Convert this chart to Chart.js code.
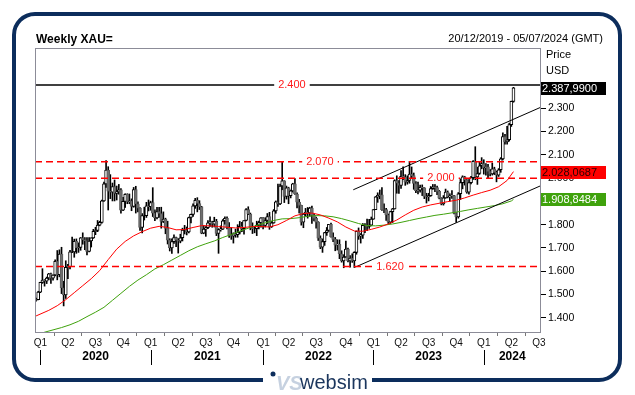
<!DOCTYPE html>
<html>
<head>
<meta charset="utf-8">
<script src="https://cdn.jsdelivr.net/npm/chart.js@4.4.1/dist/chart.umd.min.js"></script>
<style>
  html, body { margin: 0; padding: 0; background: #fff; }
  canvas { display: block; }
</style>
</head>
<body>
<canvas id="c" width="635" height="395"></canvas>
<script>
// week 0 = Friday 20/12/2019, one bar per week
const START = Date.UTC(2019, 11, 20);
const WEEK = 7 * 86400000;
const quarterStarts = ['2020-01-01','2020-04-01','2020-07-01','2020-10-01','2021-01-01','2021-04-01','2021-07-01','2021-10-01',
  '2022-01-01','2022-04-01','2022-07-01','2022-10-01','2023-01-01','2023-04-01','2023-07-01','2023-10-01',
  '2024-01-01','2024-04-01','2024-07-01'];
const yTicks = [1400,1500,1600,1700,1800,1900,2000,2100,2200,2300];

const firstOpen = 1476;
const closes = [1478,1510,1552,1562,1557,1571,1589,1570,1584,1643,
  1585,1674,1529,1498,1617,1620,1683,1683,1729,1700,
  1702,1743,1735,1730,1685,1730,1743,1771,1775,1798,
  1810,1902,1975,2035,1944,1940,1964,1934,1941,1950,
  1862,1900,1930,1899,1902,1879,1951,1889,1871,1788,
  1839,1839,1881,1877,1895,1850,1829,1856,1848,1814,
  1824,1784,1734,1700,1727,1745,1733,1729,1744,1777,
  1777,1769,1831,1844,1881,1905,1891,1877,1764,1781,
  1787,1808,1812,1802,1814,1763,1779,1781,1817,1827,
  1788,1754,1751,1761,1757,1768,1793,1783,1818,1865,
  1846,1788,1783,1783,1798,1809,1829,1797,1818,1835,
  1791,1808,1859,1898,1889,1966,1988,1921,1958,1925,
  1945,1975,1932,1897,1883,1811,1846,1853,1851,1871,
  1840,1827,1811,1742,1703,1727,1766,1775,1802,1747,
  1737,1712,1716,1675,1644,1661,1695,1644,1657,1644,
  1681,1771,1751,1755,1797,1797,1793,1798,1824,1865,
  1920,1926,1928,1865,1865,1842,1811,1856,1868,1989,
  1978,1969,2008,2004,1983,1990,2017,2011,1977,1946,
  1948,1961,1958,1921,1919,1925,1955,1962,1959,1943,
  1914,1889,1915,1940,1919,1924,1925,1849,1833,1933,
  1981,2006,1992,1940,1981,2002,2072,2005,2020,2053,
  2063,2045,2049,2029,2018,2040,2025,2013,2036,2083,
  2179,2156,2165,2230,2330,2387.99];
const highs = [1485,1514,1553,1611,1564,1575,1591,1592,1585,1649,
  1689,1692,1703,1557,1645,1630,1690,1747,1738,1739,
  1722,1745,1765,1745,1745,1745,1744,1780,1789,1818,
  1815,1906,1983,2075,2049,2015,1979,1992,1966,1973,
  1955,1917,1933,1933,1932,1911,1960,1965,1898,1874,
  1848,1875,1896,1906,1901,1959,1864,1875,1875,1875,
  1855,1828,1815,1740,1739,1756,1747,1740,1759,1785,
  1797,1790,1833,1846,1890,1913,1916,1903,1879,1796,
  1792,1818,1834,1815,1832,1823,1783,1795,1822,1834,
  1834,1809,1787,1765,1781,1800,1814,1810,1818,1869,
  1877,1850,1808,1793,1815,1815,1831,1831,1830,1848,
  1853,1815,1865,1902,1974,1974,2070,1989,1966,1961,
  1949,1978,1998,1937,1909,1884,1849,1870,1874,1875,
  1880,1847,1833,1813,1752,1739,1767,1788,1802,1807,
  1765,1745,1735,1735,1688,1671,1730,1700,1667,1675,
  1684,1773,1786,1762,1805,1805,1824,1823,1833,1865,
  1921,1937,1949,1959,1890,1870,1846,1858,1870,1993,
  2010,1989,2032,2048,2015,2010,2072,2048,2022,1985,
  1983,1970,1971,1959,1935,1935,1964,1987,1982,1966,
  1947,1916,1925,1953,1945,1933,1947,1926,1851,1938,
  1997,2010,2008,1994,1994,2008,2075,2135,2047,2071,
  2088,2079,2062,2059,2037,2065,2047,2031,2041,2088,
  2195,2188,2223,2236,2331,2390];
const lows = [1471,1477,1508,1548,1536,1547,1563,1548,1562,1580,
  1563,1576,1504,1451,1483,1568,1610,1680,1660,1677,
  1681,1690,1716,1693,1670,1683,1704,1741,1757,1770,
  1795,1806,1900,1960,1863,1912,1902,1902,1906,1931,
  1849,1860,1874,1890,1890,1860,1875,1850,1855,1775,
  1765,1820,1831,1859,1862,1835,1817,1825,1831,1785,
  1809,1761,1717,1687,1677,1720,1706,1678,1722,1730,
  1760,1756,1765,1808,1835,1870,1855,1865,1761,1761,
  1750,1783,1793,1789,1790,1753,1677,1772,1779,1802,
  1782,1745,1737,1721,1746,1746,1760,1770,1759,1816,
  1843,1778,1762,1765,1753,1782,1789,1782,1790,1804,
  1780,1788,1806,1849,1878,1886,1950,1895,1910,1890,
  1915,1940,1930,1872,1850,1798,1787,1837,1828,1836,
  1805,1816,1785,1732,1697,1681,1711,1754,1771,1746,
  1727,1688,1691,1654,1639,1615,1659,1640,1618,1638,
  1616,1673,1737,1721,1741,1766,1774,1784,1795,1823,
  1865,1896,1911,1861,1852,1818,1805,1805,1809,1867,
  1935,1934,1956,1993,1969,1974,1978,2000,1952,1937,
  1932,1940,1925,1912,1893,1902,1922,1952,1942,1929,
  1911,1885,1884,1913,1915,1901,1913,1846,1810,1828,
  1908,1954,1970,1935,1931,1975,1994,1993,1973,2016,
  2040,2017,2013,2002,2010,2013,2015,1984,2007,2025,
  2078,2146,2146,2159,2222,2326];

// moving averages: [week, value]
const redMa = [[0,1408],[6,1432],[10,1452],[14,1478],[18,1508],[22,1538],[26,1568],[30,1603],[34,1650],[38,1695],
  [42,1728],[46,1752],[50,1770],[54,1785],[58,1793],[62,1788],[66,1778],[70,1779],[74,1788],[78,1796],
  [82,1795],[86,1792],[90,1789],[94,1786],[98,1788],[102,1792],[106,1792],[110,1790],[114,1800],[118,1818],
  [122,1838],[126,1848],[130,1850],[134,1842],[138,1828],[142,1812],[146,1790],[150,1773],[154,1772],[158,1780],
  [162,1790],[166,1803],[170,1820],[174,1842],[178,1862],[182,1876],[186,1885],[190,1892],[194,1899],[198,1905],
  [202,1915],[206,1927],[210,1938],[214,1948],[218,1963],[222,1990],[225,2028.0687]];
const greenMa = [[0,1328],[4,1338],[8,1348],[12,1358],[16,1370],[20,1385],[24,1405],[28,1424],[32,1445],[36,1475],
  [40,1505],[44,1535],[48,1562],[52,1585],[56,1610],[60,1628],[64,1648],[68,1668],[72,1688],[76,1705],
  [80,1718],[84,1730],[88,1745],[92,1758],[96,1772],[100,1785],[104,1797],[108,1808],[112,1818],[116,1825],
  [120,1826],[124,1830],[128,1836],[132,1839],[136,1838],[140,1834],[144,1826],[148,1816],[152,1805],[156,1796],
  [160,1795],[164,1798],[168,1803],[172,1810],[176,1818],[180,1826],[184,1833],[188,1840],[192,1845],[196,1851],
  [200,1857],[204,1864],[208,1870],[212,1876],[216,1882],[220,1890],[224,1902],[225,1908.8484]];

const levels = [2400, 2070, 2000, 1620];
const levelLabelWeek = [120.6, 133.8, 190.8, 166.8];
const upperChannel = [[149.5,1950],[237.5,2303]];
const lowerChannel = [[150.5,1618],[237.5,1966]];

const FONT = "'Liberation Sans', Arial, sans-serif";
const fmt = (v, d) => {
  const [a, b] = v.toFixed(d).split('.');
  const s = a.replace(/\B(?=(\d{3})+(?!\d))/g, '.');
  return b ? s + ',' + b : s;
};

const quarterWeeks = quarterStarts.map(d => Math.ceil((Date.parse(d) - START) / WEEK));
const quarterNames = {};
quarterStarts.forEach((d, i) => { quarterNames[quarterWeeks[i]] = 'Q' + (Math.floor((+d.slice(5,7) - 1) / 3) + 1); });
const yearStarts = quarterStarts.map((d, i) => ({ d, w: quarterWeeks[i] })).filter(q => q.d.slice(5) === '01-01');

const weeks = closes.map((_, i) => i);
const opens = closes.map((c, i) => i ? closes[i-1] : firstOpen);
const up = closes.map((c, i) => c >= opens[i]);
const pts = arr => arr.map(p => ({ x: p[0], y: p[1] }));

const levelSets = levels.map(lv => ({
  type: 'line', data: [{x: -0.5, y: lv}, {x: 237.5, y: lv}],
  borderColor: lv === 2400 ? '#000' : '#ff0000', borderWidth: lv === 2400 ? 1.3 : 1.5,
  borderDash: lv === 2400 ? [] : [7, 4], pointRadius: 0, order: 0
}));

const decor = {
  id: 'decor',
  beforeDraw(chart) {
    const c = chart.ctx;
    c.save(); c.fillStyle = '#fff'; c.fillRect(0, 0, chart.width, chart.height); c.restore();
  },
  afterDatasetsDraw(chart) {
    const c = chart.ctx, xs = chart.scales.x, ys = chart.scales.y;
    c.save();
    c.font = '11px ' + FONT;
    c.textBaseline = 'middle'; c.textAlign = 'center';
    levels.forEach((lv, i) => {
      const t = fmt(lv, 0), x = xs.getPixelForValue(levelLabelWeek[i]), y = ys.getPixelForValue(lv);
      const w = c.measureText(t).width + 8;
      c.fillStyle = '#fff'; c.fillRect(x - w/2, y - 6, w, 12);
      c.fillStyle = '#ff1a1a'; c.fillText(t, x, y);
    });
    c.restore();
  },
  afterDraw(chart) {
    const c = chart.ctx, a = chart.chartArea, xs = chart.scales.x, ys = chart.scales.y;
    c.save();
    // plot border
    c.strokeStyle = '#8c8c98'; c.lineWidth = 1;
    c.strokeRect(a.left + 0.5, a.top + 0.5, a.right - a.left, a.bottom - a.top);
    // outer frame with gap for the logo
    const r = 21, L = 14, T = 14, R = 620, B = 380;
    c.strokeStyle = '#0c2d5c'; c.lineWidth = 4;
    c.beginPath();
    c.moveTo(263, B); c.lineTo(L + r, B); c.arcTo(L, B, L, B - r, r);
    c.lineTo(L, T + r); c.arcTo(L, T, L + r, T, r);
    c.lineTo(R - r, T); c.arcTo(R, T, R, T + r, r);
    c.lineTo(R, B - r); c.arcTo(R, B, R - r, B, r);
    c.lineTo(372, B); c.stroke();
    // titles
    c.fillStyle = '#000'; c.textBaseline = 'alphabetic';
    c.font = 'bold 12px ' + FONT; c.textAlign = 'left';
    c.fillText('Weekly XAU=', 36, 43);
    c.font = '11px ' + FONT; c.textAlign = 'right';
    c.fillText('20/12/2019 - 05/07/2024 (GMT)', 603, 42);
    c.textAlign = 'left'; c.textBaseline = 'middle';
    c.fillText('Price', 546, 55);
    c.fillText('USD', 546, 71);
    // year row
    c.font = 'bold 12px ' + FONT; c.textAlign = 'center';
    c.strokeStyle = '#000'; c.lineWidth = 1;
    yearStarts.forEach((q, i) => {
      const x = Math.round(xs.getPixelForValue(q.w)) + 0.5;
      c.beginPath(); c.moveTo(x, 350); c.lineTo(x, 365); c.stroke();
      const nx = i + 1 < yearStarts.length ? xs.getPixelForValue(yearStarts[i+1].w) : a.right;
      c.fillText(q.d.slice(0, 4), (x + nx) / 2, 357);
    });
    // last value boxes
    const boxes = [
      { v: closes[closes.length - 1], bg: '#000', fg: '#fff', d: 4 },
      { v: redMa[redMa.length - 1][1], bg: '#ff0000', fg: '#2a0000', d: 4 },
      { v: greenMa[greenMa.length - 1][1], bg: '#3fa20c', fg: '#fff', d: 4 }
    ];
    c.font = '11px ' + FONT; c.textAlign = 'left';
    boxes.forEach(b => {
      const y = ys.getPixelForValue(b.v);
      c.fillStyle = b.bg; c.fillRect(541, Math.round(y) - 6, 65, 13);
      c.fillStyle = b.fg; c.fillText(fmt(b.v, b.d), 542, Math.round(y) + 0.5);
    });
    // logo
    c.fillStyle = '#0c2d5c';
    c.beginPath(); c.arc(273, 374, 2.5, 0, Math.PI * 2); c.fill();
    c.fillStyle = '#c6d1e0'; c.font = 'italic bold 20px ' + FONT; c.textBaseline = 'alphabetic';
    c.fillText('VS', 276, 390);
    c.fillStyle = '#1b365d'; c.font = '20px ' + FONT;
    c.fillText('websim', 300, 389);
    c.restore();
  }
};

new Chart(document.getElementById('c'), {
  type: 'bar',
  data: {
    datasets: [
      ...levelSets,
      { type: 'line', data: pts(upperChannel), borderColor: '#000', borderWidth: 1, pointRadius: 0, order: 0 },
      { type: 'line', data: pts(lowerChannel), borderColor: '#000', borderWidth: 1, pointRadius: 0, order: 0 },
      { type: 'line', data: pts(redMa), borderColor: '#ff0000', borderWidth: 1, pointRadius: 0, order: 1 },
      { type: 'line', data: pts(greenMa), borderColor: '#3fa20c', borderWidth: 1, pointRadius: 0, order: 1 },
      { type: 'bar', data: weeks.map(i => ({ x: i, y: [opens[i], closes[i]] })),
        backgroundColor: up.map(u => u ? '#fff' : '#6f6f6f'), borderColor: up.map(u => u ? '#000' : '#5c5c5c'),
        borderWidth: 1, borderSkipped: false, barThickness: 3, grouped: false, order: 2 },
      { type: 'bar', data: weeks.map(i => ({ x: i, y: [lows[i], highs[i]] })),
        backgroundColor: '#000', barThickness: 1, grouped: false, order: 3 }
    ]
  },
  options: {
    responsive: false, animation: false, events: [],
    layout: { padding: { left: 35, top: 48, right: 0, bottom: 0 } },
    plugins: { legend: { display: false }, tooltip: { enabled: false } },
    scales: {
      x: {
        type: 'linear', min: -0.5, max: 237.5, offset: false,
        grid: { drawOnChartArea: false, tickLength: 4, color: '#777' },
        border: { display: false },
        ticks: { autoSkip: false, maxRotation: 0, padding: 1, color: '#111', font: { size: 10, family: FONT },
          callback: v => quarterNames[v] || '' },
        afterBuildTicks: s => { s.ticks = quarterWeeks.map(v => ({ value: v })); },
        afterFit: s => { s.height = 63; }
      },
      y: {
        type: 'linear', position: 'right', min: 1339, max: 2559,
        grid: { drawOnChartArea: false, tickLength: 6, color: '#000' },
        border: { display: false },
        ticks: { padding: 2, color: '#000', font: { size: 10.5, family: FONT }, callback: v => fmt(v, 0) },
        afterBuildTicks: s => { s.ticks = yTicks.map(v => ({ value: v })); },
        afterFit: s => { s.width = 95; }
      }
    }
  },
  plugins: [decor]
});
</script>
</body>
</html>
